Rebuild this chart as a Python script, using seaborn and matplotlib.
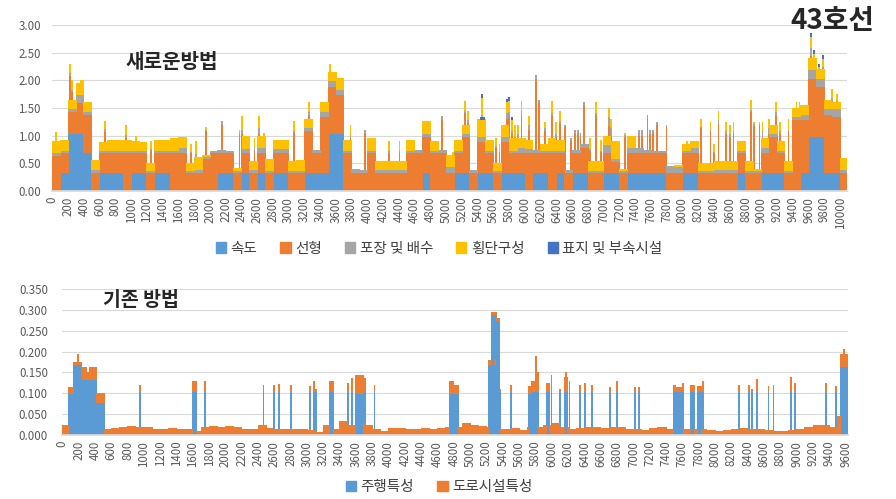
import numpy as np
import pandas as pd
import matplotlib.pyplot as plt
import seaborn as sns
from matplotlib.patches import Patch

# ---- 새로운방법 : levels read per 100 m (cumulative tops of each layer) ----
# bin i covers [100*i, 100*i+100) m, last bin 10000-10080
lvl_speed = [0, .35, 1.05, 1.05, .7, 0, .35, .35, .35, 0,
             .35, .35, 0, .35, .35, 0, 0, 0, 0, 0,
             0, .35, .35, 0, .35, 0, .35, 0, .35, .35,
             0, 0, .35, .35, .35, 1.05, 1.05, 0, 0, 0,
             0, 0, 0, 0, 0, 0, 0, .35, 0, 0,
             0, .35, .35, 0, .35, .35, 0, .35, .35, .35,
             0, .35, .35, 0, .35, 0, .35, .35, 0, 0,
             .35, .35, 0, .35, .35, .35, .35, .35, 0, 0,
             .35, .35, 0, 0, 0, 0, 0, .35, 0, 0,
             .35, .35, .35, 0, 0, .35, 1.0, 1.0, .35, .35,
             0]
lvl_align = [.65, .7, 1.45, 1.6, 1.4, .35, .7, .7, .7, .7,
             .7, .7, .35, .7, .7, .7, .7, .35, .35, .6,
             .7, .7, .7, .35, .7, .35, .7, .35, .7, .7,
             .35, .35, 1.1, .7, 1.35, 1.9, 1.75, .7, .35, .35,
             .7, .35, .35, .35, .35, .7, .7, 1.0, .7, .7,
             .35, .7, 1.0, .35, .9, .7, .35, .9, .7, .7,
             .7, .7, .7, .7, .7, .35, .7, .8, .35, .35,
             .7, .55, .35, .7, .7, .7, .7, .7, .35, .35,
             .7, .7, .35, .35, .35, .35, .35, .7, .35, .35,
             .7, 1.0, .7, .35, 1.3, 1.3, 2.05, 1.9, 1.4, 1.35,
             .35]
lvl_pave = [.7, .75, 1.5, 1.75, 1.45, .4, .75, .75, .75, .75,
            .75, .75, .38, .75, .75, .75, .8, .38, .4, .63,
            .73, .75, .72, .38, .78, .4, .8, .38, .78, .78,
            .38, .38, 1.15, .75, 1.45, 2.0, 1.85, .75, .4, .38,
            .75, .4, .4, .4, .4, .75, .75, 1.05, .75, .75,
            .45, .75, 1.05, .38, 1.0, .75, .38, 1.0, .75, .8,
            .78, .75, .75, .75, .75, .38, .75, .85, .38, .38,
            .85, .6, .38, .8, .78, .75, .73, .73, .45, .45,
            .75, .8, .38, .38, .4, .4, .4, .75, .38, .38,
            .8, 1.05, .75, .38, 1.35, 1.4, 2.2, 2.05, 1.5, 1.5,
            .4]
lvl_cross = [.9, .92, 1.65, 1.95, 1.6, .57, .88, .92, .92, .92,
             .9, .88, .5, .92, .92, .95, .97, .5, .62, .65,
             .73, .75, .72, .42, 1.0, .55, 1.0, .58, .92, .92,
             .55, .57, 1.3, .75, 1.6, 2.15, 2.05, .92, .4, .38,
             .95, .55, .55, .55, .55, .92, .75, 1.27, .9, .75,
             .65, .92, 1.2, .38, 1.3, .92, .5, 1.2, .95, .95,
             .92, .75, .85, .95, .92, .38, .75, .85, .55, .55,
             1.0, .9, .4, 1.0, .78, .75, .73, .73, .45, .47,
             .85, .9, .5, .5, .55, .55, .55, .9, .55, .4,
             .95, 1.2, .9, .55, 1.5, 1.55, 2.4, 2.2, 1.65, 1.6,
             .6]

# single 10 m bars that stand out (position m, total height)
spike_pos = [40, 220, 240, 360, 380, 660, 930, 1060, 1250, 1290, 1750, 1820, 1940,
             2150, 2370, 2400, 2440, 2560, 2620, 2680, 3060, 3250, 3520, 3660, 3780,
             3960, 4270, 4400, 4940, 5080, 5230, 5270, 5450, 5630, 5670, 5770, 5790,
             5830, 5870, 5910, 5950, 6040, 6130, 6170, 6250, 6340, 6390, 6440, 6500,
             6580, 6630, 6670, 6700, 6740, 6820, 6900, 6960, 7020, 7060, 7090, 7260,
             7440, 7480, 7550, 7580, 7620, 7670, 7790, 8000, 8050, 8230, 8350, 8390,
             8450, 8550, 8600, 8640, 8860, 8900, 8970, 9010, 9090, 9180, 9230, 9340,
             9440, 9480, 9600, 9630, 9660, 9730, 9780, 9890, 9960]
spike_top = [1.07, 2.3, 2.0, 2.0, 2.0, 1.27, 1.2, 1.0, .9, .9, .85, .9, 1.15,
             1.27, 1.1, 1.35, 1.0, .95, 1.35, 1.05, 1.27, 1.6, 2.3, 1.45, 1.2,
             1.1, .9, .9, 1.35, .7, 1.62, 1.45, 1.7, .95, .85, 1.62, 1.65,
             1.3, 1.2, 1.2, 1.62, 1.35, 2.1, 1.65, 1.25, 1.62, 1.25, 1.45, 1.2,
             .95, 1.1, 1.1, 1.05, 1.6, .95, 1.6, .92, .92, 1.5, 1.3, 1.05,
             1.1, 1.1, 1.38, 1.1, 1.1, 1.25, 1.2, .75, .9, 1.3, 1.25, .85,
             1.45, 1.25, 1.2, 1.25, 1.65, 1.25, 1.25, 1.25, 1.3, 1.6, 1.25, 1.3,
             1.6, 1.6, 2.2, 2.8, 2.5, 2.25, 2.4, 1.85, 1.75]

sign_pos = [5430, 5440, 5450, 5460, 5470, 5770, 5790, 5830, 9630, 9660, 9730, 9780]
sign_h = [.04, .04, .05, .04, .04, .05, .05, .04, .05, .05, .05, .05]

top_names = ['속도', '선형', '포장 및 배수', '횡단구성', '표지 및 부속시설']
top_colors = ['#5B9BD5', '#ED7D31', '#A5A5A5', '#FFC000', '#4472C4']

# ---- 기존 방법 ----
base_road = [.025, .02, .02, .02, .02, .015, .018, .02, .022, .02,
             .02, .015, .015, .018, .015, .015, .01, .02, .022, .02,
             .022, .02, .015, .015, .025, .018, .015, .015, .015, .015,
             .012, .008, .025, .015, .035, .025, .03, .025, .015, .01,
             .018, .018, .015, .015, .018, .015, .018, .02, .02, .03,
             .025, .022, .02, .015, .015, .018, .012, .02, .02, .025,
             .03, .02, .015, .018, .02, .02, .018, .02, .02, .015,
             .015, .012, .018, .02, .015, .015, .015, .015, .015, .012,
             .01, .012, .015, .018, .015, .015, .012, .01, .01, .012,
             .015, .02, .025, .025, .02, .045, .02]
blk_start = [80, 140, 190, 230, 300, 420, 950, 1590, 1740, 2460, 2590, 2650, 2800,
             3030, 3080, 3100, 3270, 3500, 3550, 3590, 3700, 3820, 4740, 4800,
             5220, 5260, 5300, 5310, 5320, 5360, 5490, 5710, 5750, 5800, 5820,
             5930, 5990, 6090, 6150, 6170, 6210, 6340, 6400, 6490, 6710, 6790,
             7010, 7060, 7490, 7520, 7600, 7700, 7780, 7850, 8290, 8410, 8450,
             8510, 8650, 8710, 8930, 8970, 9350, 9480, 9540, 9570]
blk_end = [130, 220, 190, 410, 320, 510, 950, 1640, 1740, 2460, 2590, 2650, 2800,
           3030, 3080, 3100, 3310, 3500, 3550, 3680, 3700, 3820, 4790, 4840,
           5250, 5290, 5300, 5310, 5350, 5360, 5490, 5740, 5830, 5800, 5820,
           5960, 5990, 6090, 6180, 6170, 6210, 6340, 6400, 6490, 6710, 6790,
           7010, 7060, 7510, 7590, 7600, 7740, 7820, 7850, 8290, 8410, 8450,
           8510, 8650, 8710, 8930, 8970, 9350, 9480, 9620, 9570]
blk_drive = [.1, .17, .17, .135, .135, .08, .105, .105, .105, .105, .105, .105, .105,
             .105, .105, .105, .105, .105, .105, .1, .105, .105, .1, .1,
             .17, .29, .17, .29, .275, .105, .105, .1, .105, .105, .105,
             .105, .105, .105, .105, .105, .105, .105, .105, .105, .105, .105,
             .105, .105, .105, .105, .105, .105, .105, .105, .105, .105, .105,
             .105, .105, .105, .105, .105, .105, .105, .165, .165]
blk_top = [.115, .175, .195, .162, .15, .1, .12, .13, .13, .12, .12, .123, .12,
           .117, .13, .11, .13, .125, .137, .143, .137, .12, .13, .12,
           .18, .295, .18, .295, .28, .11, .12, .118, .13, .19, .15,
           .125, .145, .11, .14, .152, .13, .12, .125, .12, .115, .13,
           .115, .115, .12, .115, .125, .12, .118, .13, .12, .12, .11,
           .135, .118, .12, .138, .125, .125, .118, .195, .205]

bot_names = ['주행특성', '도로시설특성']
bot_colors = ['#5B9BD5', '#ED7D31']


def top_frame():
    n = 1009
    pos = np.arange(n) * 10
    lv = [np.repeat(l, 10)[:n].astype(float) for l in (lvl_speed, lvl_align, lvl_pave, lvl_cross)]
    h = [lv[0], lv[1] - lv[0], lv[2] - lv[1], lv[3] - lv[2], np.zeros(n)]
    for p, t in zip(spike_pos, spike_top):
        k = p // 10
        h[1][k] += max(t - lv[3][k], 0)
    for p, v in zip(sign_pos, sign_h):
        h[4][p // 10] = v
    return pd.concat([pd.DataFrame({'pos': pos, 'value': h[i], 'series': top_names[i]})
                      for i in range(5)], ignore_index=True)


def bottom_frame():
    n = 963
    pos = np.arange(n) * 10
    drive = np.zeros(n)
    road = np.repeat(base_road, 10)[:n].astype(float)
    for s, e, d, t in zip(blk_start, blk_end, blk_drive, blk_top):
        drive[s // 10:e // 10 + 1] = d
        road[s // 10:e // 10 + 1] = t - d
    return pd.concat([pd.DataFrame({'pos': pos, 'value': drive, 'series': bot_names[0]}),
                      pd.DataFrame({'pos': pos, 'value': road, 'series': bot_names[1]})],
                     ignore_index=True)


def stacked(ax, df, names, colors, last, ypad):
    # seaborn stacks the last hue level at the bottom
    sns.histplot(data=df, x='pos', weights='value', hue='series', hue_order=names[::-1],
                 palette=dict(zip(names, colors)), multiple='stack',
                 binwidth=10, binrange=(-5, last + 5), linewidth=0, alpha=1,
                 legend=False, ax=ax)
    # thin 10 m bars: crisp pixels plus an edge so single bars stay visible
    for p in ax.patches:
        if p.get_height() > 0:
            p.set_edgecolor(p.get_facecolor())
            p.set_linewidth(0.4)
            p.set_antialiased(False)
    ax.set_xlim(-5, last + 5)
    ax.set_xticks(np.arange(0, last + 1, 200))
    ax.set_xticklabels([str(v) for v in range(0, last + 1, 200)], rotation=90)
    ax.set_xlabel('')
    ax.set_ylabel('')
    ax.yaxis.grid(True, color='#D9D9D9', lw=0.8)
    ax.xaxis.grid(False)
    ax.set_axisbelow(True)
    for s in ['top', 'right', 'left']:
        ax.spines[s].set_visible(False)
    ax.spines['bottom'].set_color('#D9D9D9')
    ax.tick_params(length=0, labelsize=8.3, colors='#595959')
    ax.tick_params(axis='x', pad=4)
    ax.tick_params(axis='y', pad=ypad)


sns.set_theme(style='white')
plt.rcParams['font.family'] = ['Noto Sans CJK KR', 'DejaVu Sans']

fig = plt.figure(figsize=(8.96, 4.99), dpi=100)
ax1 = fig.add_axes([0.058, 0.617, 0.887, 0.333])
ax2 = fig.add_axes([0.069, 0.128, 0.877, 0.293])

stacked(ax1, top_frame(), top_names, top_colors, 10080, 8)
ax1.set_ylim(0, 3)
ax1.set_yticks(np.arange(0, 3.01, 0.5))
ax1.set_yticklabels(['%.2f' % v for v in np.arange(0, 3.01, 0.5)])

stacked(ax2, bottom_frame(), bot_names, bot_colors, 9620, 10)
ax2.set_ylim(0, 0.35)
ax2.set_yticks(np.arange(0, 0.351, 0.05))
ax2.set_yticklabels(['%.3f' % v for v in np.arange(0, 0.351, 0.05)])

fig.legend(handles=[Patch(color=c, label=n) for n, c in zip(top_names, top_colors)],
           loc='center', bbox_to_anchor=(0.49, 0.502), ncol=5, frameon=False,
           fontsize=10.5, handlelength=0.7, handleheight=0.7, handletextpad=0.3,
           columnspacing=1.6, labelcolor='#404040')
fig.legend(handles=[Patch(color=c, label=n) for n, c in zip(bot_names, bot_colors)],
           loc='center', bbox_to_anchor=(0.49, 0.024), ncol=2, frameon=False,
           fontsize=10.5, handlelength=0.7, handleheight=0.7, handletextpad=0.3,
           columnspacing=1.6, labelcolor='#404040')

fig.text(0.192, 0.876, '새로운방법', fontsize=14.5, fontweight='bold', ha='center', va='center')
fig.text(0.157, 0.397, '기존 방법', fontsize=14, fontweight='bold', ha='center', va='center')
fig.text(0.929, 0.958, '43호선', fontsize=20, fontweight='bold', ha='center', va='center')

fig.savefig('out.png', dpi=100)
